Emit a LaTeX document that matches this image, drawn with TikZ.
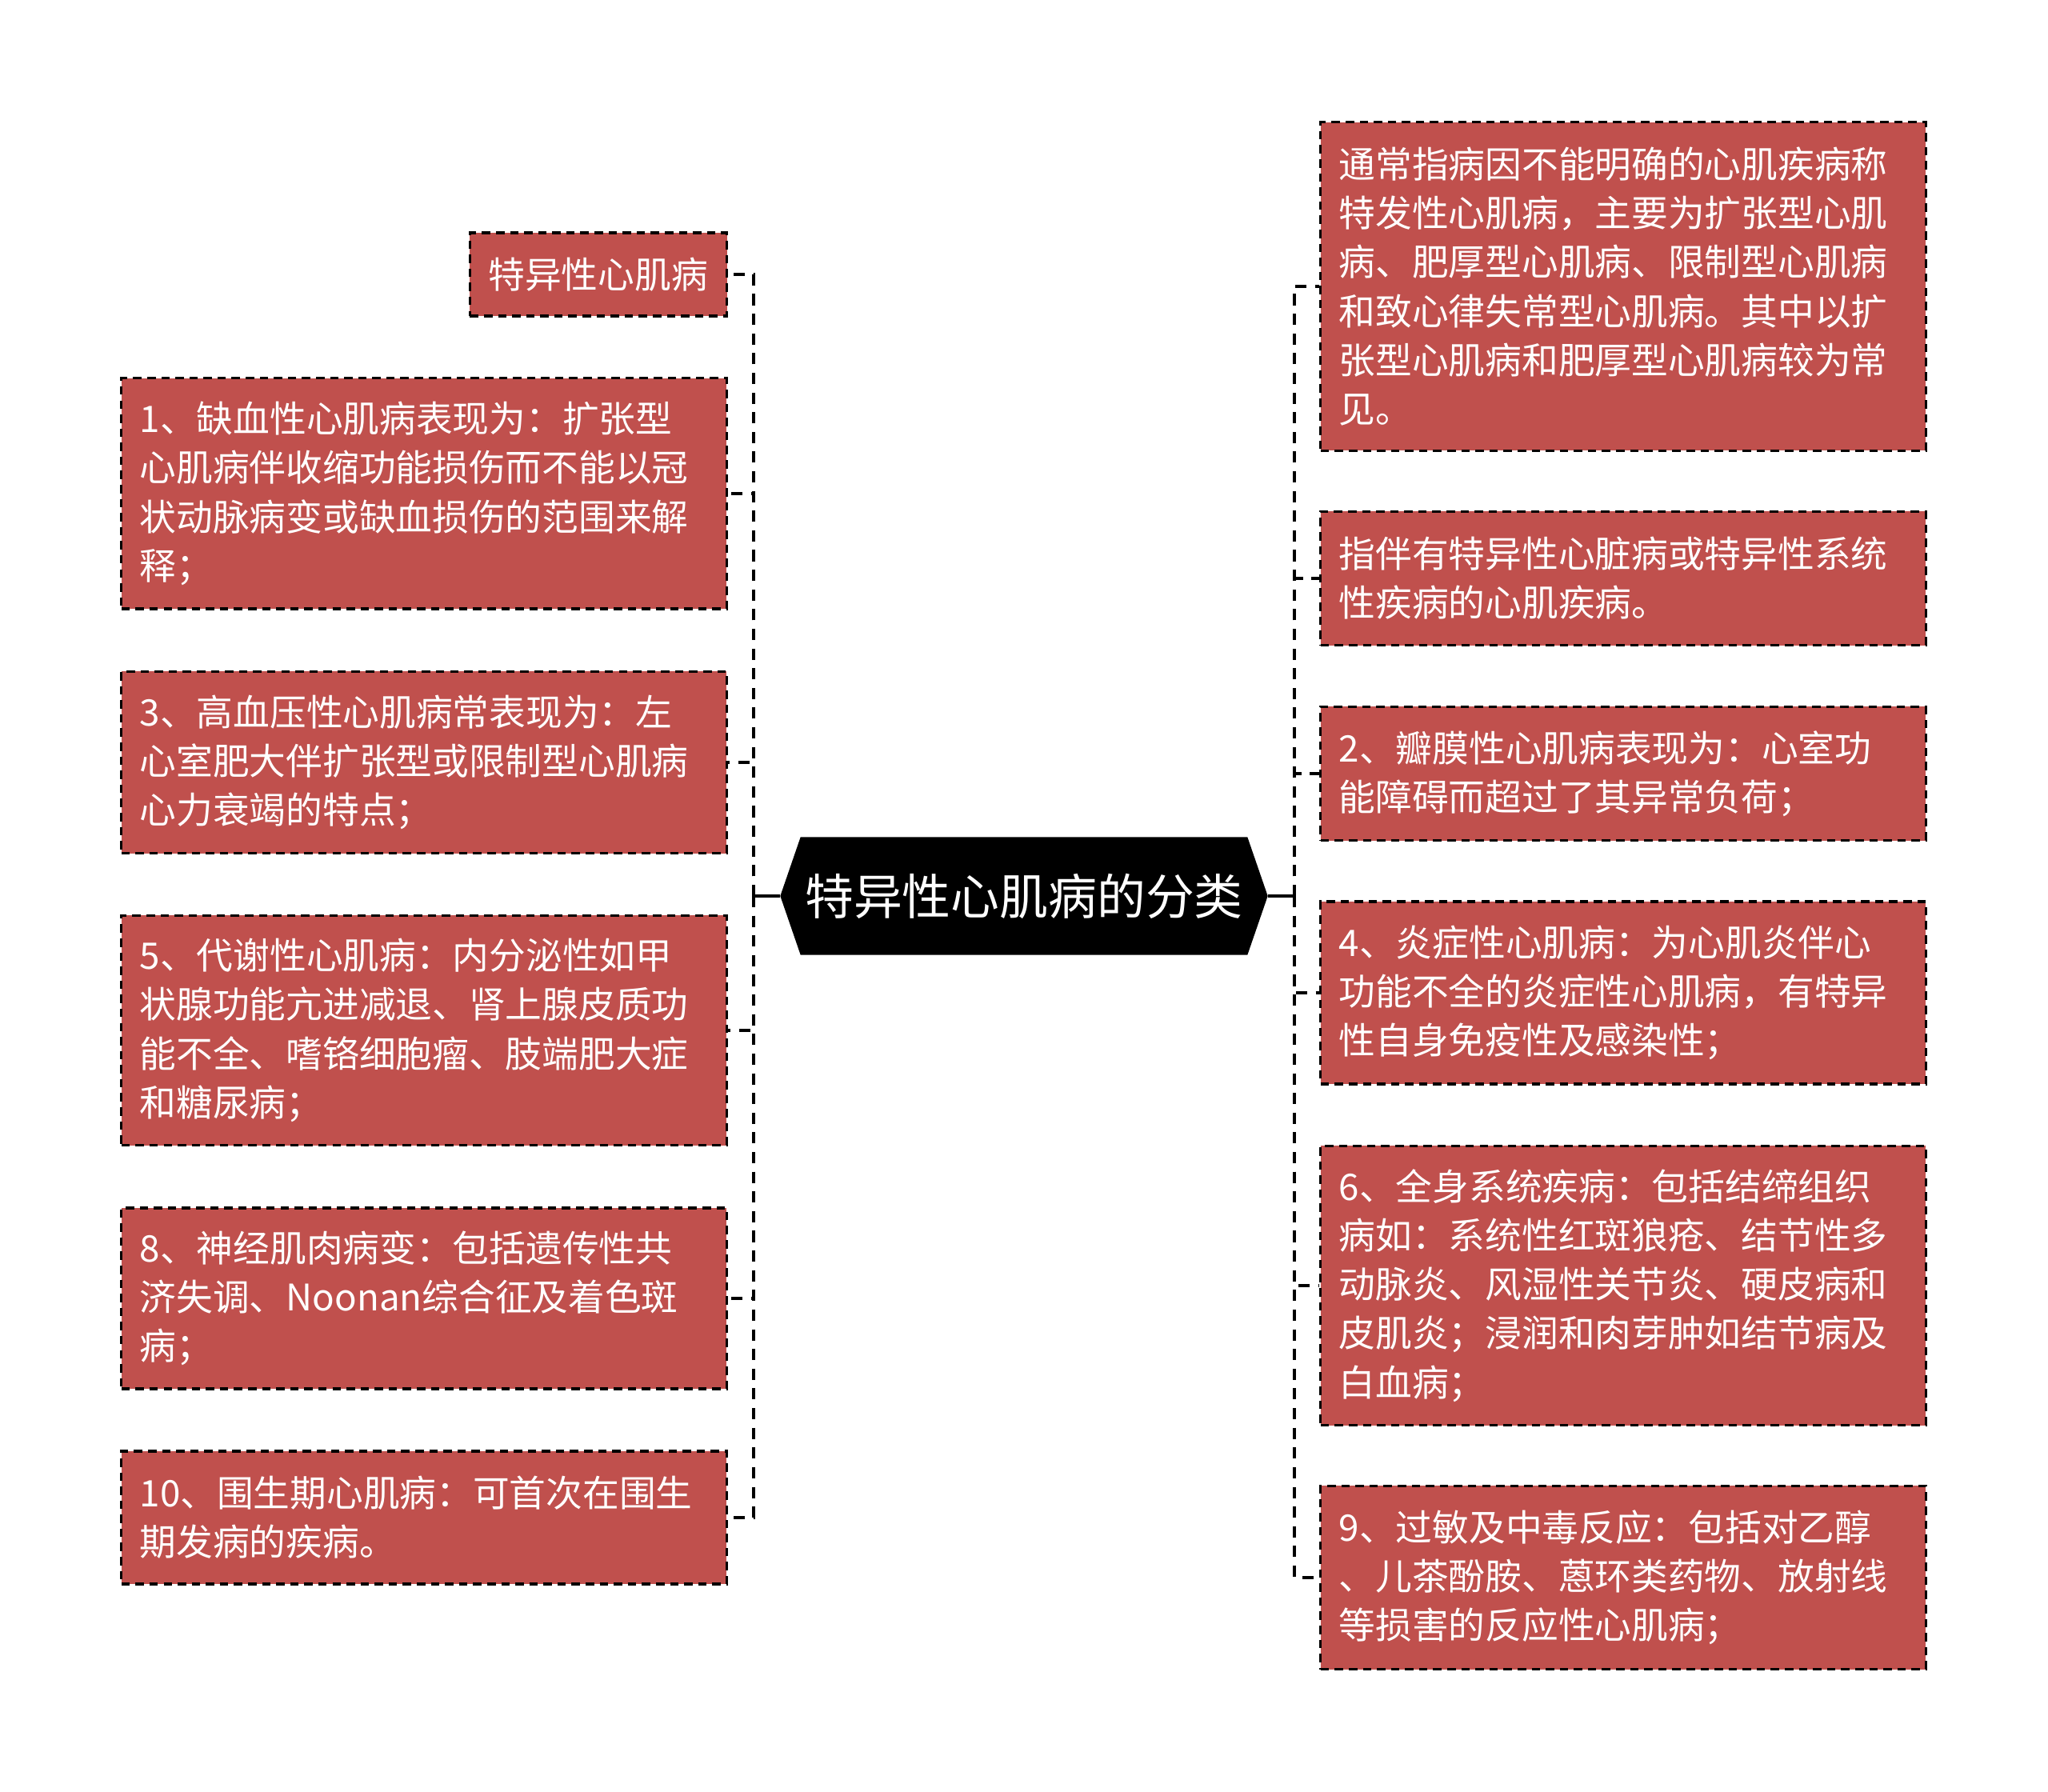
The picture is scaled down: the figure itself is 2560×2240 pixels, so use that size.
\documentclass[tikz,border=0pt]{standalone}
\usepackage{fontspec}
\setmainfont{Noto Sans CJK SC}
\usetikzlibrary{shapes.symbols}
\definecolor{leafred}{RGB}{192,80,77}

\begin{document}
\begin{tikzpicture}[
            x=0.01cm, y=-0.01cm,
            line cap=butt,
            card/.style={draw=black, fill=leafred, text=white, line width=0.9pt,
                dash pattern=on 3pt off 2pt, align=left, inner xsep=0.23cm, inner ysep=0pt,
                font=\fontsize{13pt}{17.4pt}\selectfont},
            leaf/.style={card, text width=7.1cm},
            root/.style={signal, signal to=west and east, signal pointer angle=142,
                fill=black, text=white, minimum width=6.09cm, minimum height=1.47cm,
                inner xsep=0pt, font=\fontsize{17.3pt}{20pt}\selectfont},
            trunk/.style={line width=1.1pt},
            branch/.style={line width=1pt, dash pattern=on 4pt off 3pt},
        ]
        \useasboundingbox (0,0) rectangle (2560,2240);

        \node[root] (root) at (1280,1120) {特异性心肌病的分类};

        % left side
        \node[card, text width=2.75cm, minimum height=1.04cm] (l1) at (748,343) {特异性心肌病};
        \node[leaf, minimum height=2.88cm] (l2) at (530,617)
            {1、缺血性心肌病表现为：扩张型\\心肌病伴收缩功能损伤而不能以冠\\状动脉病变或缺血损伤的范围来解\\释；};
        \node[leaf, minimum height=2.27cm] (l3) at (530,953)
            {3、高血压性心肌病常表现为：左\\心室肥大伴扩张型或限制型心肌病\\心力衰竭的特点；};
        \node[leaf, minimum height=2.87cm] (l4) at (530,1288)
            {5、代谢性心肌病：内分泌性如甲\\状腺功能亢进减退、肾上腺皮质功\\能不全、嗜铬细胞瘤、肢端肥大症\\和糖尿病；};
        \node[leaf, minimum height=2.26cm] (l5) at (530,1623)
            {8、神经肌肉病变：包括遗传性共\\济失调、Noonan综合征及着色斑\\病；};
        \node[leaf, minimum height=1.66cm] (l6) at (530,1897)
            {10、围生期心肌病：可首次在围生\\期发病的疾病。};

        % right side
        \node[leaf, minimum height=4.10cm] (r1) at (2029,358)
            {通常指病因不能明确的心肌疾病称\\特发性心肌病，主要为扩张型心肌\\病、肥厚型心肌病、限制型心肌病\\和致心律失常型心肌病。其中以扩\\张型心肌病和肥厚型心肌病较为常\\见。};
        \node[leaf, minimum height=1.67cm] (r2) at (2029,723)
            {指伴有特异性心脏病或特异性系统\\性疾病的心肌疾病。};
        \node[leaf, minimum height=1.67cm] (r3) at (2029,967)
            {2、瓣膜性心肌病表现为：心室功\\能障碍而超过了其异常负荷；};
        \node[leaf, minimum height=2.28cm] (r4) at (2029,1241)
            {4、炎症性心肌病：为心肌炎伴心\\功能不全的炎症性心肌病，有特异\\性自身免疫性及感染性；};
        \node[leaf, minimum height=3.49cm] (r5) at (2029,1607)
            {6、全身系统疾病：包括结缔组织\\病如：系统性红斑狼疮、结节性多\\动脉炎、风湿性关节炎、硬皮病和\\皮肌炎；浸润和肉芽肿如结节病及\\白血病；};
        \node[leaf, minimum height=2.29cm] (r6) at (2029,1972)
            {9、过敏及中毒反应：包括对乙醇\\、儿茶酚胺、蒽环类药物、放射线\\等损害的反应性心肌病；};

        % connectors
        \coordinate (lbus) at (942,1120);
        \coordinate (rbus) at (1618,1120);
        \draw[trunk] (root.west) -- (lbus);
        \draw[trunk] (root.east) -- (rbus);
        \foreach \n in {l1,l2,l3,l4,l5,l6}
            \draw[branch] (lbus) |- (\n.east);
        \foreach \n in {r1,r2,r3,r4,r5,r6}
            \draw[branch] (rbus) |- (\n.west);
        \end{tikzpicture}
\end{document}
